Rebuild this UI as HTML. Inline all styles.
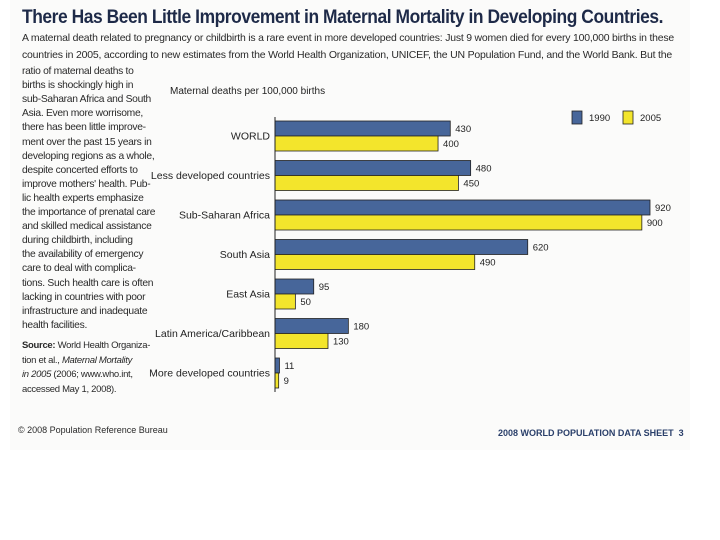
<!DOCTYPE html>
<html><head><meta charset="utf-8"><style>
body{margin:0;width:720px;height:540px;background:#fff;overflow:hidden;font-family:"Liberation Sans",sans-serif}
#page{position:absolute;left:10px;top:0;width:680px;height:450px;background:#fbfbfa}
.t{position:absolute;white-space:nowrap;color:#2a2a2a}
#title{left:12px;top:6px;font-size:19.5px;font-weight:bold;color:#1e2a48;letter-spacing:-0.5px;transform-origin:0 0}
.intro{left:12px;font-size:10.3px;letter-spacing:-0.2px;transform-origin:0 0}
.col{left:12px;font-size:10.3px;letter-spacing:-0.3px}
</style></head><body>
<div id="page">
<div class="t" id="title">There Has Been Little Improvement in Maternal Mortality in Developing Countries.</div>
<div class="t intro" id="in1" style="top:33px">A maternal death related to pregnancy or childbirth is a rare event in more developed countries: Just 9 women died for every 100,000 births in these</div>
<div class="t intro" id="in2" style="top:50px">countries in 2005, according to new estimates from the World Health Organization, UNICEF, the UN Population Fund, and the World Bank. But the</div>
<div id="colText"></div>
<div class="t" style="left:8px;top:425px;font-size:9px">© 2008 Population Reference Bureau</div>
<div class="t" style="left:488px;top:428px;font-size:9px;font-weight:bold;color:#2a3f6a">2008 WORLD POPULATION DATA SHEET &nbsp;3</div>
</div>
<svg id="chart" width="720" height="540" style="position:absolute;left:0;top:0"></svg>
<script>
function fit(id,w){const e=document.getElementById(id);const cw=e.getBoundingClientRect().width;e.style.transform='scaleX('+(w/cw)+')';}
fit('title',641);fit('in1',652);fit('in2',650);
const lines=["ratio of maternal deaths to","births is shockingly high in","sub-Saharan Africa and South","Asia. Even more worrisome,","there has been little improve-","ment over the past 15 years in","developing regions as a whole,","despite concerted efforts to","improve mothers' health. Pub-","lic health experts emphasize","the importance of prenatal care","and skilled medical assistance","during childbirth, including","the availability of emergency","care to deal with complica-","tions. Such health care is often","lacking in countries with poor","infrastructure and inadequate","health facilities."];
const src=["<b>Source:</b> World Health Organiza-","tion et al., <i>Maternal Mortality</i>","<i>in 2005</i> (2006; www.who.int,","accessed May 1, 2008)."];
const ct=document.getElementById('colText');
lines.forEach((l,i)=>{const d=document.createElement('div');d.className='t col';d.style.top=(66+i*14.1)+'px';d.textContent=l;


ct.appendChild(d);});
src.forEach((l,i)=>{const d=document.createElement('div');d.className='t col';d.style.top=(340+i*14.5)+'px';d.style.fontSize='9.5px';d.innerHTML=l;


ct.appendChild(d);});

const categories=["WORLD","Less developed countries","Sub-Saharan Africa","South Asia","East Asia","Latin America/Caribbean","More developed countries"];
const v1990=[430,480,920,620,95,180,11];
const v2005=[400,450,900,490,50,130,9];
const seriesNames=["1990","2005"];
const NS="http://www.w3.org/2000/svg";
const svg=document.getElementById('chart');
const x0=275,scale=(650-275)/920;
const xs=v=>x0+v*scale;
const gy=i=>121+i*39.5;
const bh=15;
function el(tag,attrs,txt){const e=document.createElementNS(NS,tag);for(const k in attrs)e.setAttribute(k,attrs[k]);if(txt!==undefined)e.textContent=txt;svg.appendChild(e);return e;}
const cols=["#47669a","#f3e52c"];
let t=el('text',{x:170,y:94,'font-size':10,fill:'#222','font-family':'Liberation Sans'},'Maternal deaths per 100,000 births');


categories.forEach((c,i)=>{
  [v1990[i],v2005[i]].forEach((v,s)=>{
    const y=gy(i)+s*bh;
    const r=el('rect',{x:x0,y:y,width:xs(v)-x0,height:bh,fill:cols[s],stroke:'#222','stroke-width':0.8});
    
    
    const lb=el('text',{x:xs(v)+5,y:y+bh/2+3.5,'font-size':9.5,fill:'#222','font-family':'Liberation Sans'},String(v));
    
    
  });
  const cl=el('text',{x:270,y:gy(i)+bh+3.5,'font-size':10.5,fill:'#222','text-anchor':'end','font-family':'Liberation Sans'},c);
  
  
});
const ax=el('line',{x1:x0,y1:117,x2:x0,y2:392,stroke:'#222','stroke-width':1});


const lx=[572,623];
seriesNames.forEach((n,s)=>{
  const r=el('rect',{x:lx[s],y:111,width:10,height:13,fill:cols[s],stroke:'#222','stroke-width':0.8});
  
  
  const tx=el('text',{x:lx[s]+17,y:121,'font-size':9.5,fill:'#222','font-family':'Liberation Sans'},n);
  
  
});
</script>
</body></html>
